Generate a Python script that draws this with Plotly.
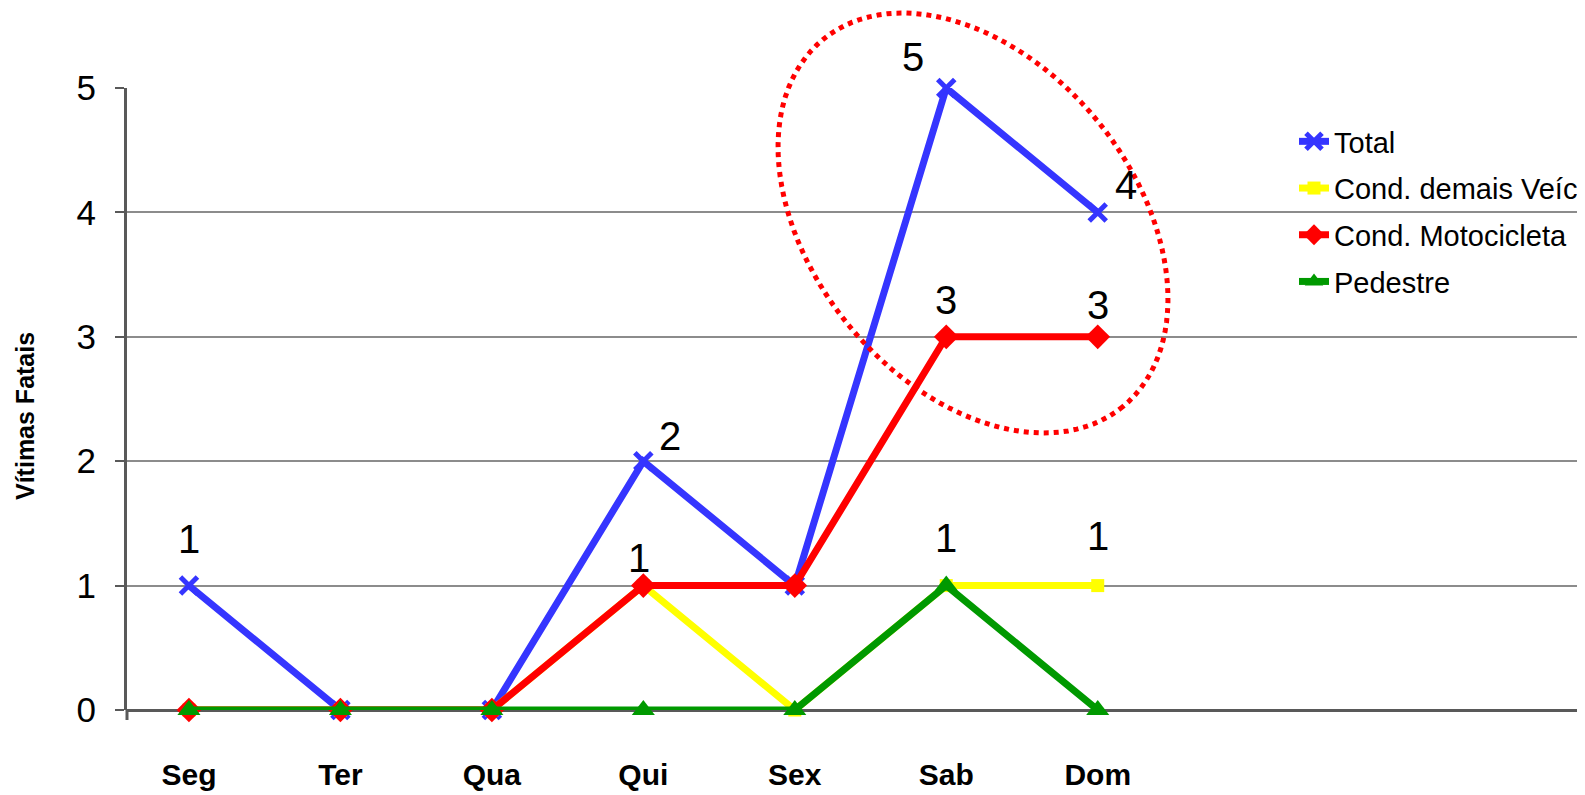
import math
import plotly.graph_objects as go

days = ["Seg", "Ter", "Qua", "Qui", "Sex", "Sab", "Dom"]
total = [1, 0, 0, 2, 1, 5, 4]
demais = [0, 0, 0, 1, 0, 1, 1]
moto = [0, 0, 0, 1, 1, 3, 3]
pedestre = [0, 0, 0, 0, 0, 1, 0]
y_ticks = [0, 1, 2, 3, 4, 5]

W, H = 1585, 795
L, R, T, B = 119, 0, 80, 93
PW, PH = W - L - R, H - T - B
FONT = "Liberation Sans, Arial, sans-serif"

x = list(range(len(days)))

fig = go.Figure()
series = [
    ("Total", total, "#3535FF", dict(symbol="x-thin-open", size=17, line=dict(width=5, color="#3535FF"))),
    ("Cond. demais Veículos", demais, "#FFFF00", dict(symbol="square", size=13)),
    ("Cond. Motocicleta", moto, "#FF0000", dict(symbol="diamond", size=19)),
    ("Pedestre", pedestre, "#009900", dict(symbol="triangle-up", size=20)),
]
for name, vals, col, mk in series:
    mk = dict(mk)
    mk.setdefault("color", col)
    fig.add_trace(go.Scatter(
        x=x, y=vals, name=name, mode="lines+markers", legendgroup=name,
        line=dict(color=col, width=7), marker=mk, cliponaxis=False,
    ))

# data labels: (series values, index, xshift, yshift)
labels = [
    (total, 0, 0, 47), (total, 3, 27, 25), (total, 5, -33, 31), (total, 6, 28, 27),
    (moto, 3, -4, 28), (moto, 5, 0, 37), (moto, 6, 0, 32),
    (pedestre, 5, 0, 48), (demais, 6, 0, 50),
]
for vals, i, xs, ys in labels:
    fig.add_annotation(x=x[i], y=vals[i], text=str(vals[i]), showarrow=False,
                       xshift=xs, yshift=ys, font=dict(size=40, color="black", family=FONT))

# y-axis title
fig.add_annotation(xref="paper", yref="paper", x=(17 - L) / PW, y=(H - B - 408) / PH,
                   xanchor="center", yanchor="middle",
                   text="Vítimas Fatais", textangle=-90, showarrow=False,
                   font=dict(size=25, family=FONT, weight="bold", color="black"))

# dotted ellipse highlighting the weekend (pixel geometry -> paper coords)
cx, cy, a, b, phi = 965, 215, 237, 161, math.radians(50.8)
pts = []
for k in range(121):
    t = 2 * math.pi * k / 120
    px = cx + a * math.cos(t) * math.cos(phi) - b * math.sin(t) * math.sin(phi)
    py = cy + a * math.cos(t) * math.sin(phi) + b * math.sin(t) * math.cos(phi)
    pts.append(((px - L) / PW, (H - B - py) / PH))
path = "M " + " L ".join(f"{u:.5f},{v:.5f}" for u, v in pts) + " Z"
fig.add_shape(type="path", path=path, xref="paper", yref="paper",
              line=dict(color="#FF0000", width=5, dash="dot"))

# short extension of y-axis below zero
fig.add_shape(type="line", xref="paper", yref="paper", x0=0, x1=0, y0=-10 / PH, y1=0,
              line=dict(color="#595959", width=3))

fig.update_layout(
    width=W, height=H,
    margin=dict(l=L, r=R, t=T, b=B, autoexpand=False),
    plot_bgcolor="white", paper_bgcolor="white",
    font=dict(family=FONT, color="black"),
    showlegend=True,
    legend=dict(x=(1286 - L) / PW, y=0.955, xanchor="left", yanchor="top",
                font=dict(size=29, family=FONT), bgcolor="rgba(0,0,0,0)",
                tracegroupgap=6),
    xaxis=dict(
        range=[-0.409, 9.27], tickmode="array", tickvals=x, ticktext=days,
        showgrid=False, zeroline=False, showline=False,
        tickfont=dict(size=30, family=FONT, weight="bold"),
        ticks="", ticklabelstandoff=44,
    ),
    yaxis=dict(
        range=[0, 5], tickmode="array", tickvals=y_ticks,
        showgrid=True, gridcolor="#8C8C8C", gridwidth=2,
        zeroline=True, zerolinecolor="#595959", zerolinewidth=3,
        showline=True, linecolor="#595959", linewidth=3,
        ticks="outside", ticklen=9, tickwidth=2, tickcolor="#595959",
        tickfont=dict(size=35, family=FONT), ticklabelstandoff=12,
    ),
)

fig.write_html("out.html")
